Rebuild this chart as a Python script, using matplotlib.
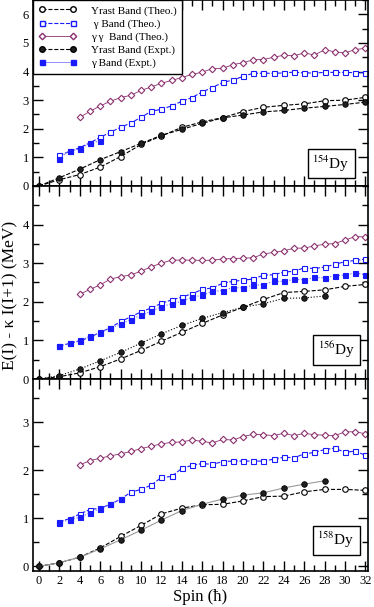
import matplotlib
matplotlib.use("Agg")
import matplotlib.pyplot as plt
from matplotlib.ticker import MultipleLocator
from matplotlib.lines import Line2D

plt.rcParams['font.family'] = ['Liberation Serif', 'DejaVu Serif']
plt.rcParams['mathtext.fontset'] = 'stix'

# spins
spin_even = list(range(0, 33, 2))
spin_g = list(range(2, 33))
spin_gg = list(range(4, 33))

# ---- 154Dy ----
y154_yrast_th = [0, 0.22, 0.40, 0.66, 1.03, 1.45, 1.75, 2.05, 2.24, 2.39, 2.60, 2.75, 2.82, 2.87, 2.98, 3.00, 3.10]
y154_yrast_ex = [0, 0.29, 0.59, 0.92, 1.20, 1.49, 1.77, 1.98, 2.19, 2.38, 2.48, 2.59, 2.64, 2.72, 2.78, 2.85, 2.93]
y154_g_th = [1.07, 1.21, 1.34, 1.51, 1.70, 1.88, 2.05, 2.20, 2.40, 2.61, 2.68, 2.80, 2.96, 3.09, 3.29, 3.44,
             3.62, 3.70, 3.83, 3.94, 3.94, 3.94, 3.95, 3.98, 3.95, 3.95, 3.97, 3.97, 3.97, 3.96, 3.96]
spin154_g_ex = [2, 3, 4, 5, 6]
y154_g_ex = [0.96, 1.24, 1.28, 1.51, 1.57]
y154_gg_th = [2.40, 2.61, 2.80, 2.96, 3.09, 3.17, 3.34, 3.46, 3.59, 3.69, 3.79, 3.90, 3.98, 4.10, 4.11,
              4.24, 4.31, 4.41, 4.42, 4.50, 4.57, 4.55, 4.65, 4.58, 4.76, 4.69, 4.65, 4.77, 4.81]

# ---- 156Dy ----
y156_yrast_th = [0, 0.06, 0.16, 0.32, 0.52, 0.74, 0.98, 1.21, 1.44, 1.66, 1.86, 2.06, 2.24, 2.27, 2.31, 2.40, 2.45]
spin156_yrast_ex = list(range(0, 29, 2))
y156_yrast_ex = [0, 0.09, 0.26, 0.47, 0.69, 0.93, 1.17, 1.39, 1.57, 1.72, 1.86, 1.95, 2.09, 2.10, 2.15]
y156_g_th = [0.86, 0.92, 0.99, 1.08, 1.21, 1.33, 1.49, 1.61, 1.74, 1.84, 1.96, 2.05, 2.12, 2.21, 2.32, 2.36,
             2.48, 2.53, 2.56, 2.59, 2.69, 2.70, 2.77, 2.79, 2.88, 2.86, 2.90, 2.97, 3.04, 3.07, 3.11]
y156_g_ex = [0.85, 0.92, 1.00, 1.11, 1.20, 1.32, 1.42, 1.54, 1.65, 1.76, 1.87, 1.95, 2.01, 2.12, 2.17, 2.27,
             2.29, 2.37, 2.36, 2.43, 2.44, 2.53, 2.53, 2.58, 2.57, 2.63, 2.62, 2.68, 2.69, 2.75, 2.70]
y156_gg_th = [2.20, 2.32, 2.44, 2.59, 2.65, 2.70, 2.79, 2.91, 3.00, 3.08, 3.08, 3.08, 3.07, 3.08, 3.11,
              3.12, 3.13, 3.14, 3.24, 3.28, 3.32, 3.39, 3.39, 3.45, 3.49, 3.51, 3.60, 3.69, 3.68]

# ---- 158Dy ----
y158_yrast_th = [0, 0.07, 0.19, 0.38, 0.62, 0.85, 1.09, 1.21, 1.28, 1.29, 1.36, 1.45, 1.46, 1.55, 1.60, 1.60, 1.58]
spin158_yrast_ex = list(range(0, 29, 2))
y158_yrast_ex = [0, 0.07, 0.19, 0.36, 0.55, 0.75, 0.96, 1.16, 1.29, 1.40, 1.48, 1.53, 1.63, 1.71, 1.78]
y158_g_th = [0.93, 0.99, 1.09, 1.18, 1.21, 1.29, 1.40, 1.54, 1.60, 1.69, 1.85, 1.87, 2.04, 2.10, 2.14, 2.12,
             2.18, 2.19, 2.19, 2.19, 2.19, 2.23, 2.27, 2.26, 2.34, 2.37, 2.43, 2.46, 2.37, 2.40, 2.31]
spin158_g_ex = [2, 3, 4, 5, 6, 7, 8]
y158_g_ex = [0.91, 0.97, 1.02, 1.11, 1.20, 1.29, 1.40]
y158_gg_th = [2.11, 2.20, 2.25, 2.30, 2.34, 2.39, 2.45, 2.50, 2.55, 2.58, 2.59, 2.63, 2.60, 2.57, 2.64,
              2.63, 2.70, 2.75, 2.74, 2.72, 2.77, 2.72, 2.77, 2.74, 2.73, 2.72, 2.80, 2.80, 2.76]

BLUE = '#1a1aff'
PURP = '#8b2f6e'

fig = plt.figure(figsize=(3.74, 6.07), dpi=100)
left, width = 0.088, 0.896
ax_top = fig.add_axes([left, 0.6936, width, 0.3064])
ax_mid = fig.add_axes([left, 0.3756, width, 0.318])
ax_bot = fig.add_axes([left, 0.0593, width, 0.3163])

panels = [
    (ax_top, (0, 6.5), 6, '154', y154_yrast_th, spin_even, y154_yrast_ex, y154_g_th, spin154_g_ex, y154_g_ex,
     y154_gg_th, '--', 'k', (0.89, 0.12)),
    (ax_mid, (0, 5.0), 4, '156', y156_yrast_th, spin156_yrast_ex, y156_yrast_ex, y156_g_th, spin_g, y156_g_ex,
     y156_gg_th, ':', 'k', (0.906, 0.152)),
    (ax_bot, (-0.1, 3.9), 3, '158', y158_yrast_th, spin158_yrast_ex, y158_yrast_ex, y158_g_th, spin158_g_ex,
     y158_g_ex, y158_gg_th, '-', '#9a9a9a', (0.905, 0.16)),
]

ms = 4
for (ax, ylim, ymax_lab, mass, yth, sx, yex, gth, gsx, gex, ggth, ex_ls, ex_lc, boxpos) in panels:
    ax.plot(spin_gg, ggth, ls='-', lw=0.6, color=PURP, marker='D', ms=3.3, mfc='white', mec=PURP, mew=0.8)
    ax.plot(spin_g, gth, ls='--', lw=0.8, color=BLUE, marker='s', ms=3.6, mfc='white', mec=BLUE, mew=0.8)
    ax.plot(gsx, gex, ls=':', lw=0.8, color='#6b6bff', marker='s', ms=3.6, mfc=BLUE, mec=BLUE, mew=0.8)
    ax.plot(spin_even, yth, ls='--', lw=0.8, color='k', marker='o', ms=ms, mfc='white', mec='k', mew=0.8)
    ax.plot(sx, yex, ls=ex_ls, lw=0.8, color=ex_lc, marker='o', ms=ms, mfc='#202020', mec='k', mew=0.6)

    ax.set_xlim(-0.6, 32.25)
    ax.set_ylim(*ylim)
    ax.xaxis.set_major_locator(MultipleLocator(2))
    ax.xaxis.set_minor_locator(MultipleLocator(1))
    ax.set_yticks(range(0, ymax_lab + 1))
    ax.yaxis.set_minor_locator(MultipleLocator(0.5))
    ax.tick_params(which='both', direction='in', top=True, right=True, labelsize=9, width=1.0, pad=3)
    ax.tick_params(which='major', length=7)
    ax.tick_params(which='minor', length=4)
    for sp in ax.spines.values():
        sp.set_linewidth(1.2)
    if ax is not ax_bot:
        ax.tick_params(labelbottom=False)

    ax.text(boxpos[0], boxpos[1], r'$^{%s}$Dy' % mass, transform=ax.transAxes, ha='center', va='center',
            fontsize=11, bbox=dict(boxstyle='square,pad=0.3', fc='white', ec='k', lw=1))

handles = [
    Line2D([], [], ls='--', lw=0.8, color='k', marker='o', ms=ms, mfc='white', mec='k'),
    Line2D([], [], ls='--', lw=0.8, color=BLUE, marker='s', ms=3.6, mfc='white', mec=BLUE),
    Line2D([], [], ls='-', lw=0.6, color=PURP, marker='D', ms=3.3, mfc='white', mec=PURP),
    Line2D([], [], ls='--', lw=0.8, color='k', marker='o', ms=ms, mfc='#202020', mec='k'),
    Line2D([], [], ls='-', lw=0.6, color='#8080ff', marker='s', ms=3.6, mfc=BLUE, mec=BLUE),
]
labels = ['Yrast Band (Theo.)', ' \u03b3 Band (Theo.)', '\u03b3 \u03b3  Band (Theo.)',
          'Yrast Band (Expt.)', '\u03b3 Band (Expt.)']
leg = ax_top.legend(handles, labels, loc='upper left', bbox_to_anchor=(0, 1), borderaxespad=0,
                    fontsize=8, numpoints=2, handlelength=3.4, handletextpad=1.3, labelspacing=0.28,
                    borderpad=0.5, fancybox=False, framealpha=1, edgecolor='k')
leg.get_frame().set_linewidth(1.0)

fig.text(0.027, 0.514, 'E(I) - \u03ba I(I+1) (MeV)', rotation=90, ha='center', va='center', fontsize=12.5)
fig.text(0.536, 0.016, 'Spin (\u0127)', ha='center', va='center', fontsize=12)

fig.savefig('out.png', dpi=100)
